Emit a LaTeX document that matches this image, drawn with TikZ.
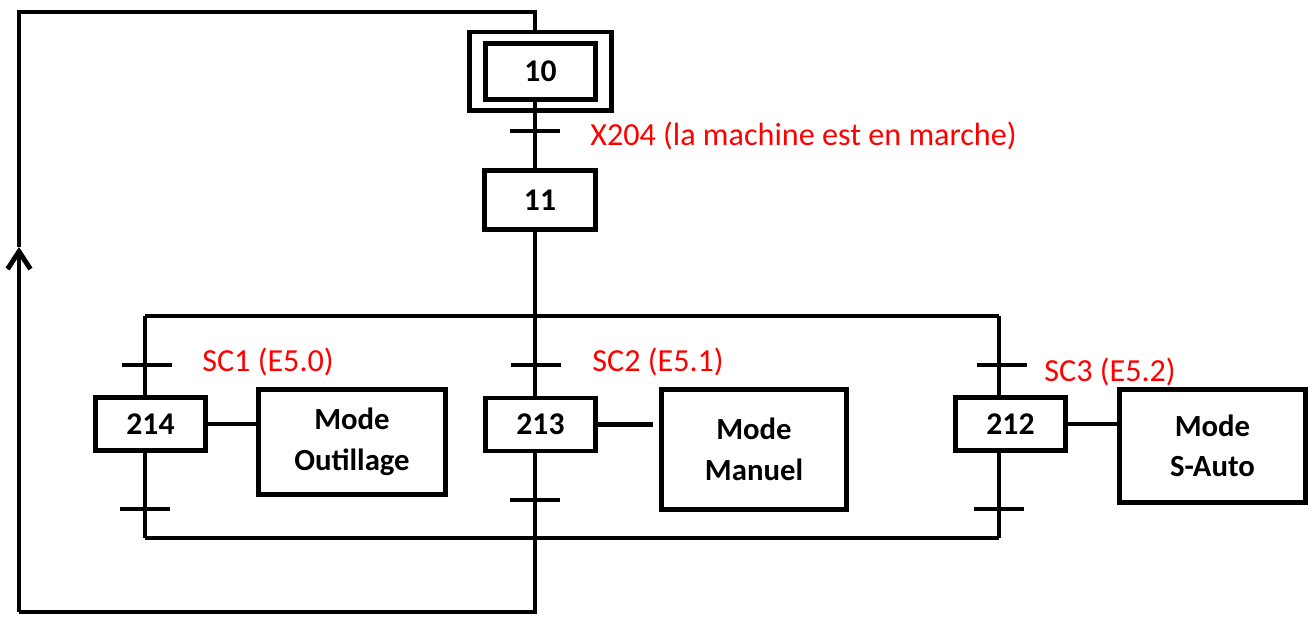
\documentclass[tikz,border=0pt]{standalone}
\usepackage{fontspec}
\setmainfont{Carlito}
\usetikzlibrary{arrows.meta,positioning,fit,calc}
\definecolor{LabelRed}{HTML}{FF0000}
\tikzset{
  % Step box
  SB/.style={rectangle,draw,line width=2.8pt,inner sep=0pt,
             minimum width=2.2cm,minimum height=1.06cm,
             font=\fontsize{18}{21}\selectfont\bfseries},
  % Action box
  AB/.style={rectangle,draw,line width=2.8pt,inner sep=0pt,
             minimum width=3.75cm,minimum height=2.1cm,align=center,
             font=\fontsize{17.5}{23}\selectfont\bfseries},
  % Transition bar
  TR/.style={rectangle,fill=black,inner sep=0pt,
             minimum width=1cm,minimum height=2.8pt},
  % Link
  lnk/.style={line width=2.8pt},
  % Receptivity label
  RC/.style={anchor=west,inner sep=0pt,text=LabelRed,
             font=\fontsize{18.3}{21}\selectfont}
}

\begin{document}
\begin{tikzpicture}[x=0.02cm,y=-0.02cm]
  \useasboundingbox (0,0) rectangle (1316,617);

  % --- Initial step and step 11 ---
  \node[SB,minimum height=1.12cm] (s10) at (540.5,71.5) {10};
  \node[draw,line width=2.8pt,inner xsep=0.27cm,inner ysep=0.18cm,fit=(s10)] (s10o) {};
  \node[TR] (t10) at (535,131) {};
  \node[RC] (r10) at (590,136) {X204 (la machine est en marche)};
  \node[SB,minimum width=2.22cm,minimum height=1.18cm] (s11) at (540,200) {11};

  % --- Divergence / convergence ---
  \coordinate (dvL) at (145,316);
  \coordinate (dvR) at (999,316);
  \coordinate (cvL) at (145,538);
  \coordinate (cvR) at (999,538);

  % --- Branches ---
  \node[TR] (ta1) at (147,365) {};
  \node[TR] (tm1) at (536,365) {};
  \node[TR] (tc1) at (1002,365) {};
  \node[RC] (ra) at (202,362) {SC1 (E5.0)};
  \node[RC] (rm) at (592,362) {SC2 (E5.1)};
  \node[RC] (rc) at (1044,372) {SC3 (E5.2)};

  \node[SB] (s214) at (150.5,424) {214};
  \node[SB] (s213) at (540.5,424.5) {213};
  \node[SB] (s212) at (1010.5,424) {212};

  \node[AB,minimum width=3.74cm] (a214) at (352,442) {Mode\\Outillage};
  \node[AB,minimum width=3.7cm,minimum height=2.4cm] (a213) at (754,449.5) {Mode\\Manuel};
  \node[AB,minimum width=3.72cm,minimum height=2.26cm] (a212) at (1212.5,446) {Mode\\S-Auto};

  \node[TR] (ta2) at (145,509) {};
  \node[TR] (tm2) at (535,500) {};
  \node[TR] (tc2) at (999,509) {};

  % --- Loop back ---
  \coordinate (lpB) at (19,612);
  \coordinate (lpA) at (19,247);
  \coordinate (lpT) at (19,12);

  \draw[lnk] (lpA) -- (lpT) -| (t10 |- s10o.north);
  \draw[lnk] (t10 |- s10.south) -- (t10 |- s11.north);
  \draw[lnk] (t10 |- s11.south) -- (t10 |- dvR);
  \draw[lnk] (dvL) -- (dvR);
  \draw[lnk] (cvL) -- (cvR);
  % left branch
  \draw[lnk] (dvL) -- (dvL |- s214.north);
  \draw[lnk] (dvL |- s214.south) -- (cvL);
  % middle branch
  \draw[lnk] (t10 |- dvR) -- (t10 |- s213.north);
  \draw[lnk] (t10 |- s213.south) -- (t10 |- lpB) -- (lpB);
  % right branch
  \draw[lnk] (dvR) -- (dvR |- s212.north);
  \draw[lnk] (dvR |- s212.south) -- (cvR);
  \draw[lnk,-{Straight Barb[length=10pt,width=13pt]}] (lpB) -- (lpA);
  % actions
  \draw[lnk] (s214.east) -- (s214.east -| a214.west);
  \draw[lnk] (s213.east) -- ($(s213.east -| a213.west)+(-6,0)$);
  \draw[lnk] (s212.east) -- (s212.east -| a212.west);
\end{tikzpicture}
\end{document}
